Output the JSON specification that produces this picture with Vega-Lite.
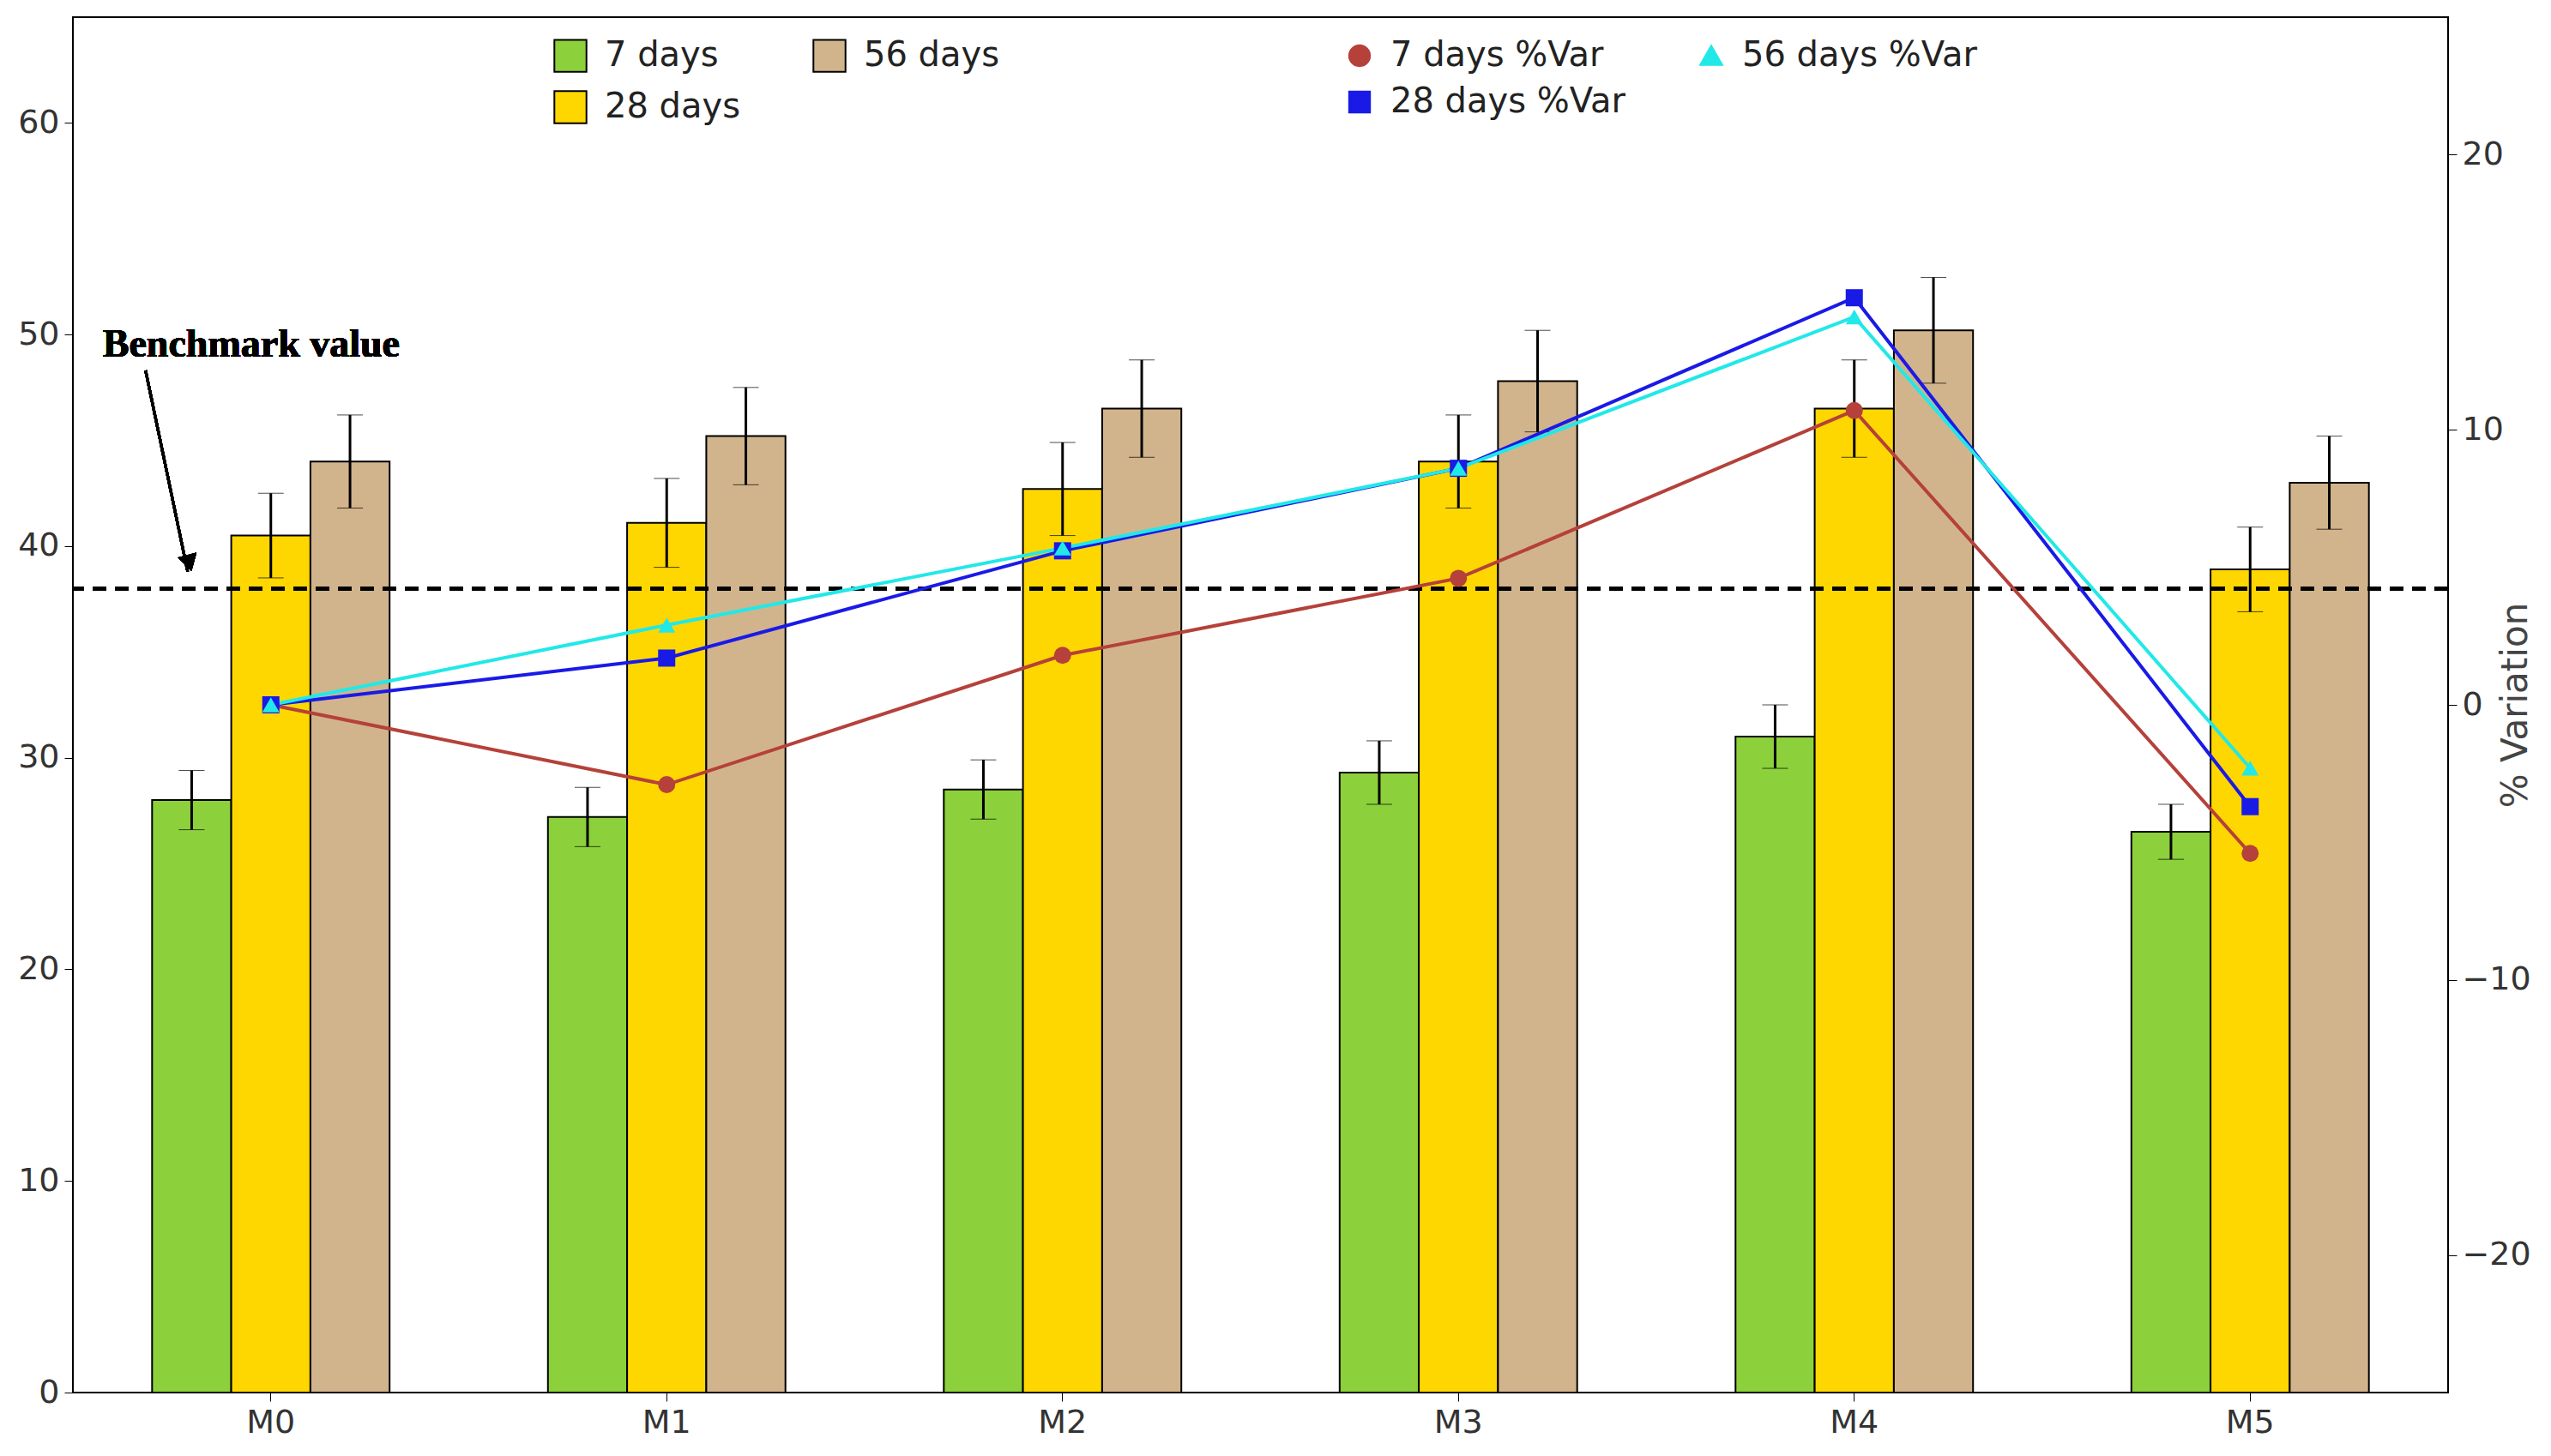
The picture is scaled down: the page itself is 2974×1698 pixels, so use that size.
{
  "$schema": "https://vega.github.io/schema/vega-lite/v6.json",
  "width": 2974,
  "height": 1698,
  "autosize": {"type": "fit", "contains": "padding"},
  "padding": {"left": 20, "right": 20, "top": 20, "bottom": 20},
  "background": "white",
  "data": {
    "values": [
      {"mix": "M0", "age": "7 days", "strength": 28.0, "err": 1.4, "pvar": 0.0},
      {"mix": "M1", "age": "7 days", "strength": 27.2, "err": 1.4, "pvar": -2.9},
      {"mix": "M2", "age": "7 days", "strength": 28.5, "err": 1.4, "pvar": 1.8},
      {"mix": "M3", "age": "7 days", "strength": 29.3, "err": 1.5, "pvar": 4.6},
      {"mix": "M4", "age": "7 days", "strength": 31.0, "err": 1.5, "pvar": 10.7},
      {"mix": "M5", "age": "7 days", "strength": 26.5, "err": 1.3, "pvar": -5.4},
      {"mix": "M0", "age": "28 days", "strength": 40.5, "err": 2.0, "pvar": 0.0},
      {"mix": "M1", "age": "28 days", "strength": 41.1, "err": 2.1, "pvar": 1.7},
      {"mix": "M2", "age": "28 days", "strength": 42.7, "err": 2.2, "pvar": 5.6},
      {"mix": "M3", "age": "28 days", "strength": 44.0, "err": 2.2, "pvar": 8.6},
      {"mix": "M4", "age": "28 days", "strength": 46.5, "err": 2.3, "pvar": 14.8},
      {"mix": "M5", "age": "28 days", "strength": 38.9, "err": 2.0, "pvar": -3.7},
      {"mix": "M0", "age": "56 days", "strength": 44.0, "err": 2.2, "pvar": 0.0},
      {"mix": "M1", "age": "56 days", "strength": 45.2, "err": 2.3, "pvar": 2.9},
      {"mix": "M2", "age": "56 days", "strength": 46.5, "err": 2.3, "pvar": 5.7},
      {"mix": "M3", "age": "56 days", "strength": 47.8, "err": 2.4, "pvar": 8.6},
      {"mix": "M4", "age": "56 days", "strength": 50.2, "err": 2.5, "pvar": 14.1},
      {"mix": "M5", "age": "56 days", "strength": 43.0, "err": 2.2, "pvar": -2.3}
    ]
  },
  "transform": [
    {"calculate": "datum.strength - datum.err", "as": "lo"},
    {"calculate": "datum.strength + datum.err", "as": "hi"},
    {"calculate": "datum.age + ' %Var'", "as": "series"}
  ],
  "encoding": {
    "x": {
      "field": "mix",
      "type": "nominal",
      "title": null,
      "scale": {"paddingInner": 0.4, "paddingOuter": 0.2},
      "axis": {"labelAngle": 0, "ticks": true, "tickColor": "black", "domain": false}
    }
  },
  "layer": [
    {
      "layer": [
        {
          "mark": {"type": "bar", "stroke": "black", "strokeWidth": 2},
          "encoding": {
            "xOffset": {"field": "age", "sort": ["7 days", "28 days", "56 days"], "scale": {"paddingInner": 0}},
            "y": {
              "field": "strength",
              "type": "quantitative",
              "title": "Compressive Strength (MPa)",
              "scale": {"domain": [0, 65], "nice": false},
              "axis": {"values": [0, 10, 20, 30, 40, 50, 60], "domain": false}
            },
            "fill": {
              "field": "age",
              "type": "nominal",
              "sort": ["7 days", "28 days", "56 days"],
              "scale": {"domain": ["7 days", "28 days", "56 days"], "range": ["#8cd03b", "#ffd700", "#d2b48c"]},
              "legend": {
                "title": null,
                "orient": "none",
                "legendX": 560,
                "legendY": 25,
                "columns": 2,
                "symbolType": "square",
                "symbolSize": 1400,
                "symbolStrokeColor": "black",
                "symbolStrokeWidth": 2,
                "columnPadding": 80,
                "rowPadding": 14,
                "labelOffset": 20,
                "labelFontSize": 40,
                "labelLimit": 500
              }
            }
          }
        },
        {
          "mark": {"type": "errorbar", "ticks": {"size": 30, "color": "black", "strokeWidth": 3}, "rule": {"color": "black", "strokeWidth": 3}},
          "encoding": {
            "xOffset": {"field": "age", "sort": ["7 days", "28 days", "56 days"], "scale": {"paddingInner": 0}},
            "y": {"field": "lo", "type": "quantitative", "title": null},
            "y2": {"field": "hi"}
          }
        },
        {
          "mark": {"type": "rule", "strokeDash": [16, 10], "strokeWidth": 4, "color": "black"},
          "encoding": {"y": {"datum": 38}, "x": {}}
        },
        {
          "mark": {"type": "text", "text": "Benchmark value", "font": "Liberation Serif", "fontWeight": "bold", "fontSize": 46, "align": "left", "dx": -196, "color": "black"},
          "encoding": {"x": {"datum": "M0"}, "y": {"datum": 49.5}}
        },
        {
          "mark": {"type": "rule", "strokeWidth": 3, "color": "black", "xOffset": -146, "x2Offset": -97},
          "encoding": {"x": {"datum": "M0"}, "x2": {"datum": "M0"}, "y": {"datum": 48.3}, "y2": {"datum": 38.8}}
        },
        {
          "mark": {"type": "point", "shape": "triangle-down", "filled": true, "color": "black", "size": 500, "angle": -15, "xOffset": -95, "opacity": 1},
          "encoding": {"x": {"datum": "M0"}, "y": {"datum": 39.2}}
        }
      ]
    },
    {
      "layer": [
        {
          "mark": {"type": "line", "strokeWidth": 4},
          "encoding": {
            "y": {
              "field": "pvar",
              "type": "quantitative",
              "title": "% Variation",
              "scale": {"domain": [-25, 25], "nice": false},
              "axis": {"orient": "right", "values": [-20, -10, 0, 10, 20], "titleAngle": 270, "domain": false}
            },
            "color": {
              "field": "series",
              "type": "nominal",
              "scale": {"domain": ["7 days %Var", "28 days %Var", "56 days %Var"], "range": ["#b5413a", "#1a1ae6", "#22e8e8"]}
            }
          }
        },
        {
          "mark": {"type": "point", "filled": true, "size": 400, "opacity": 1},
          "encoding": {
            "y": {"field": "pvar", "type": "quantitative"},
            "color": {"field": "series", "type": "nominal"},
            "shape": {
              "field": "series",
              "type": "nominal",
              "scale": {"domain": ["7 days %Var", "28 days %Var", "56 days %Var"], "range": ["circle", "square", "triangle-up"]}
            }
          }
        }
      ],
      "encoding": {}
    }
  ],
  "resolve": {"scale": {"y": "independent"}},
  "config": {
    "font": "DejaVu Sans",
    "view": {"stroke": "black", "strokeWidth": 2},
    "axis": {
      "grid": false,
      "labelFontSize": 38,
      "titleFontSize": 42,
      "titleFontWeight": "normal",
      "labelColor": "#333333",
      "titleColor": "#444444",
      "tickColor": "black",
      "tickSize": 10,
      "labelPadding": 6
    },
    "legend": {
      "labelFontSize": 40,
      "labelColor": "#222222",
      "orient": "none",
      "legendX": 1480,
      "legendY": 25,
      "columns": 2,
      "symbolSize": 500,
      "symbolStrokeWidth": 4,
      "columnPadding": 80,
      "rowPadding": 14,
      "labelOffset": 16,
      "labelLimit": 600,
      "title": null
    }
  }
}
